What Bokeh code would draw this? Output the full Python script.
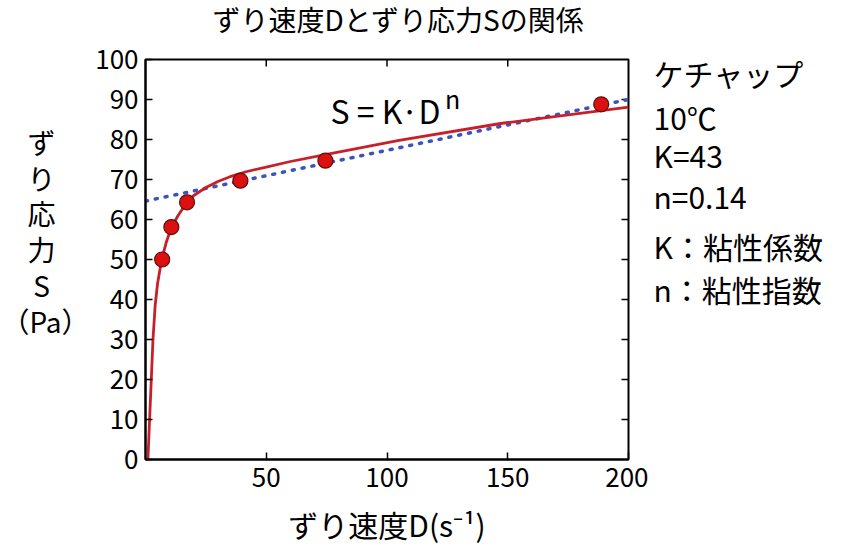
import math
from bokeh.plotting import figure
from bokeh.models import Label, FixedTicker, Range1d
from bokeh.layouts import row, column
from bokeh.embed import file_html
from bokeh.resources import INLINE

# measured data points (shear rate D, shear stress S)
rate_D = [6.9, 10.7, 17.2, 39.3, 74.5, 188.7]
stress_S = [50.0, 58.1, 64.3, 69.7, 74.7, 88.8]

# fitted power-law curve
curve_D = [1.0, 3.1, 4.0, 5.0, 6.7, 8.6, 10.7, 13.5, 17.2, 20.0, 25.0, 30.0, 35.0, 42.0, 50.0, 60.0, 75.0, 105.0, 147.0, 200.0]
curve_S = [0.0, 30.0, 38.5, 44.0, 50.0, 54.3, 58.0, 61.0, 64.3, 66.0, 68.0, 69.5, 70.7, 72.0, 73.1, 74.5, 76.3, 79.8, 84.0, 88.1]

# straight dotted reference line
line_D = [0.0, 200.0]
line_S = [64.6, 90.0]

x_ticks = [50, 100, 150, 200]
y_ticks = [0, 10, 20, 30, 40, 50, 60, 70, 80, 90, 100]
top_ticks = [50, 100, 150]
right_ticks = [10, 20, 30, 40, 50, 60, 70, 80, 90]

title_text = "ずり速度Dとずり応力Sの関係"
ylabel_rows = ["ず", "り", "応", "力", "S", "（Pa）"]
xlabel_text = "ずり速度D(s⁻¹)"
info_rows = ["ケチャップ", "10℃", "K=43", "n=0.14", "K：粘性係数", "n：粘性指数"]
formula_main = "S = K·D"
formula_sup = "n"

FONT = "Noto Sans CJK JP"
TITLE_H = 40
H = 508          # height of the plot row
FRAME_TOP = 59   # page px of the plot frame's top
FRAME_BOT = 462  # page px of the plot frame's bottom


def text_panel(width, height, yr):
    f = figure(width=width, height=height, output_backend="svg", toolbar_location=None,
               x_range=Range1d(0, width), y_range=yr,
               x_axis_location=None, y_axis_location=None,
               min_border=0, min_border_left=0, min_border_right=0,
               min_border_top=0, min_border_bottom=0)
    f.outline_line_color = None
    f.xgrid.grid_line_color = None
    f.ygrid.grid_line_color = None
    return f


def lab(fig, x, y, text, size, align="left", baseline="middle"):
    fig.add_layout(Label(x=x, y=y, text=text, text_font=FONT, text_font_size=size,
                         text_align=align, text_baseline=baseline, text_color="black"))


# ---- title strip
top = text_panel(852, TITLE_H, Range1d(TITLE_H, 0))
lab(top, 398, 18, title_text, "28px", align="center")

# ---- left panel: stacked y label (frame aligned with the plot frame)
left = text_panel(92, H, Range1d(FRAME_BOT, FRAME_TOP))
ylab_y = [142, 178, 214, 250, 286, 322]
ylab_x = [41, 41, 41, 41, 41, 45]
for t, xx, yy in zip(ylabel_rows, ylab_x, ylab_y):
    lab(left, xx, yy, t, "28px", align="center")

# ---- main plot
p = figure(width=556, height=H, output_backend="svg", toolbar_location=None,
           x_range=Range1d(0, 200), y_range=Range1d(0, 100),
           min_border_left=53, min_border_right=20,
           min_border_top=FRAME_TOP - TITLE_H, min_border_bottom=H - (FRAME_BOT - TITLE_H))
p.xgrid.grid_line_color = None
p.ygrid.grid_line_color = None
p.outline_line_color = "black"
p.outline_line_width = 2

for ax, ticks in ((p.xaxis[0], x_ticks), (p.yaxis[0], y_ticks)):
    ax.ticker = FixedTicker(ticks=ticks)
    ax.major_tick_in = 7
    ax.major_tick_out = 0
    ax.minor_tick_line_color = None
    ax.axis_line_color = "black"
    ax.axis_line_width = 2
    ax.major_tick_line_color = "black"
    ax.major_tick_line_width = 1.5
    ax.major_label_text_font = FONT
    ax.major_label_text_font_size = "26px"
    ax.major_label_text_color = "black"
p.xaxis[0].major_label_standoff = 8
p.yaxis[0].major_label_standoff = 7
p.xaxis[0].axis_label = xlabel_text
p.xaxis[0].axis_label_text_font = FONT
p.xaxis[0].axis_label_text_font_size = "30px"
p.xaxis[0].axis_label_text_font_style = "normal"
p.xaxis[0].axis_label_text_color = "black"
p.xaxis[0].axis_label_standoff = 12

# inward ticks on the top and right edges of the frame
p.scatter(top_ticks, [100] * len(top_ticks), marker="dash", size=14, angle=math.pi / 2,
          line_color="black", line_width=1.5)
p.scatter([200] * len(right_ticks), right_ticks, marker="dash", size=14,
          line_color="black", line_width=1.5)

p.line(line_D, line_S, line_color="#3a55b8", line_width=3.5, line_dash="2 8", line_cap="round")
p.line(curve_D, curve_S, line_color="#c8202a", line_width=2.8, line_join="round")
p.scatter(rate_D, stress_S, size=15, fill_color="#dd1010", line_color="#5a1010", line_width=1.2)

lab(p, 76.6, 87.3, formula_main, "32px")
lab(p, 124.0, 90.3, formula_sup, "25px")

# ---- right panel: parameter notes
right = text_panel(204, H, Range1d(FRAME_BOT, FRAME_TOP))
info_y = [73, 117, 155, 197, 247, 290]
for t, yy in zip(info_rows, info_y):
    lab(right, 5, yy, t, "30px")

layout = column(top, row(left, p, right))
open("out.html", "w").write(file_html(layout, INLINE))
